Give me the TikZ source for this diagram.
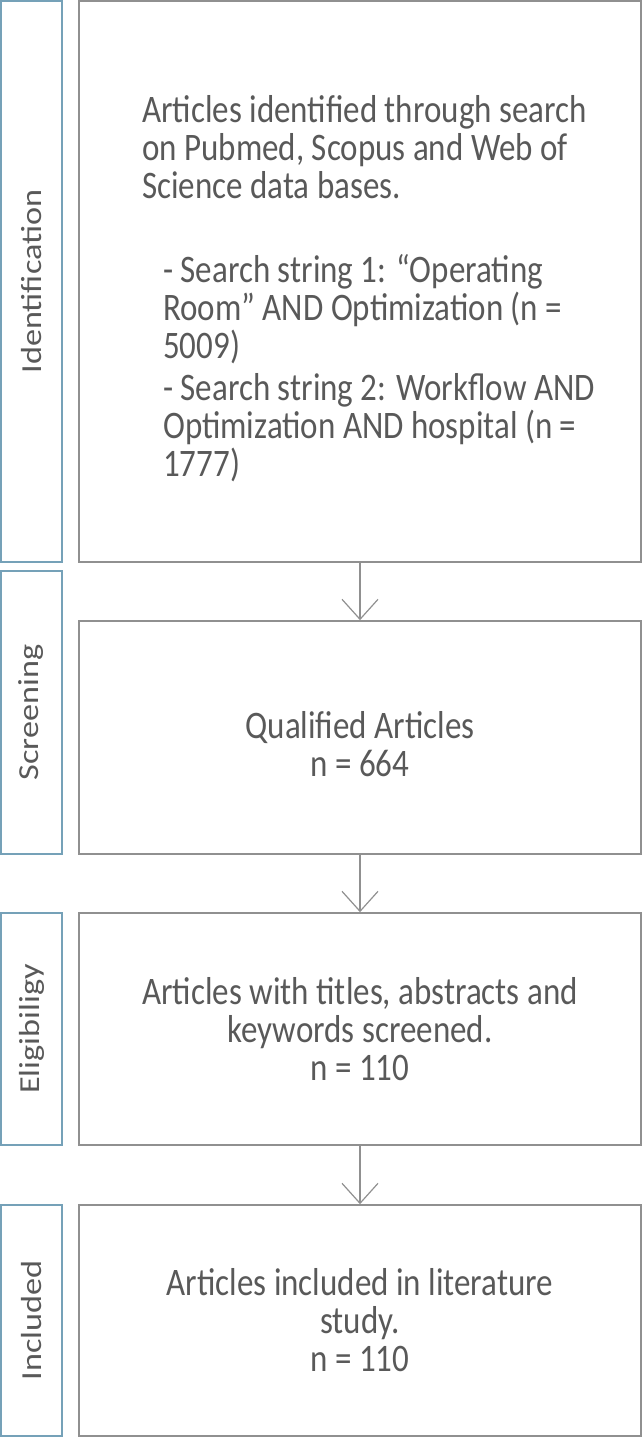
\documentclass[tikz,border=0pt]{standalone}
\usepackage{fontspec}
\usepackage{graphicx}
\setmainfont{Carlito}
\usetikzlibrary{arrows.meta}
\definecolor{lblue}{HTML}{75A1B8}
\definecolor{bgray}{HTML}{909090}
\definecolor{tgray}{HTML}{595959}
\begin{document}
\begin{tikzpicture}[x=1pt,y=-1pt,
  stagebox/.style={draw=lblue, line width=1.6pt, inner sep=0pt, minimum width=61pt},
  mainbox/.style={draw=bgray, line width=1.6pt, inner sep=0pt, minimum width=562pt},
  maintext/.style={text=tgray, font=\fontsize{33}{32.2}\selectfont, yscale=1.18, inner sep=0pt},
  stagetext/.style={text=tgray, font=\fontsize{29}{30}\selectfont, inner sep=0pt},
  flow/.style={draw=bgray, line width=1.2pt, -{Straight Barb[length=20pt,width=36pt]}}]
\useasboundingbox (0,0) rectangle (642,1437);
% stage boxes
\node[stagebox, minimum height=561pt] (s1) at (31.5,281.5) {};
\node[stagebox, minimum height=283pt] (s2) at (31.5,712.5) {};
\node[stagebox, minimum height=232pt] (s3) at (31.5,1029) {};
\node[stagebox, minimum height=231pt] (s4) at (31.5,1320.5) {};
% main boxes
\node[mainbox, minimum height=561pt] (r1) at (360,281.5) {};
\node[mainbox, minimum height=233pt] (r2) at (360,737.5) {};
\node[mainbox, minimum height=232pt] (r3) at (360,1029) {};
\node[mainbox, minimum height=231pt] (r4) at (360,1320.5) {};
% stage labels
\node[stagetext] (l1) at (s1.center) {\scalebox{1}[1.18]{\rotatebox{90}{Identification}}};
\node[stagetext] (l2) at (s2.center) {\scalebox{1}[1.18]{\rotatebox{90}{Screening}}};
\node[stagetext] (l3) at (s3.center) {\scalebox{1}[1.18]{\rotatebox{90}{Eligibiligy}}};
\node[stagetext] (l4) at (s4.center) {\scalebox{1}[1.18]{\rotatebox{90}{Included}}};
% texts
\node[maintext, anchor=north west, align=left] (t1) at (142,95) {Articles identified through search\\
on Pubmed, Scopus and Web of\\
Science data bases.\\[39pt]
\hspace*{21pt}- Search string 1: “Operating\\
\hspace*{21pt}Room” AND Optimization (n =\\
\hspace*{21pt}5009)\\[4pt]
\hspace*{21pt}- Search string 2: Workflow AND\\
\hspace*{21pt}Optimization AND hospital (n =\\
\hspace*{21pt}1777)};
\node[maintext, align=center] (t2) at (360,744) {Qualified Articles\\ n = 664};
\node[maintext, align=center] (t3) at (360,1029) {Articles with titles, abstracts and\\ keywords screened.\\ n = 110};
\node[maintext, align=center] (t4) at (360,1320) {Articles included in literature\\ study.\\ n = 110};
% connectors
\draw[flow] (r1.south) -- (r2.north);
\draw[flow] (r2.south) -- (r3.north);
\draw[flow] (r3.south) -- (r4.north);
\end{tikzpicture}
\end{document}
